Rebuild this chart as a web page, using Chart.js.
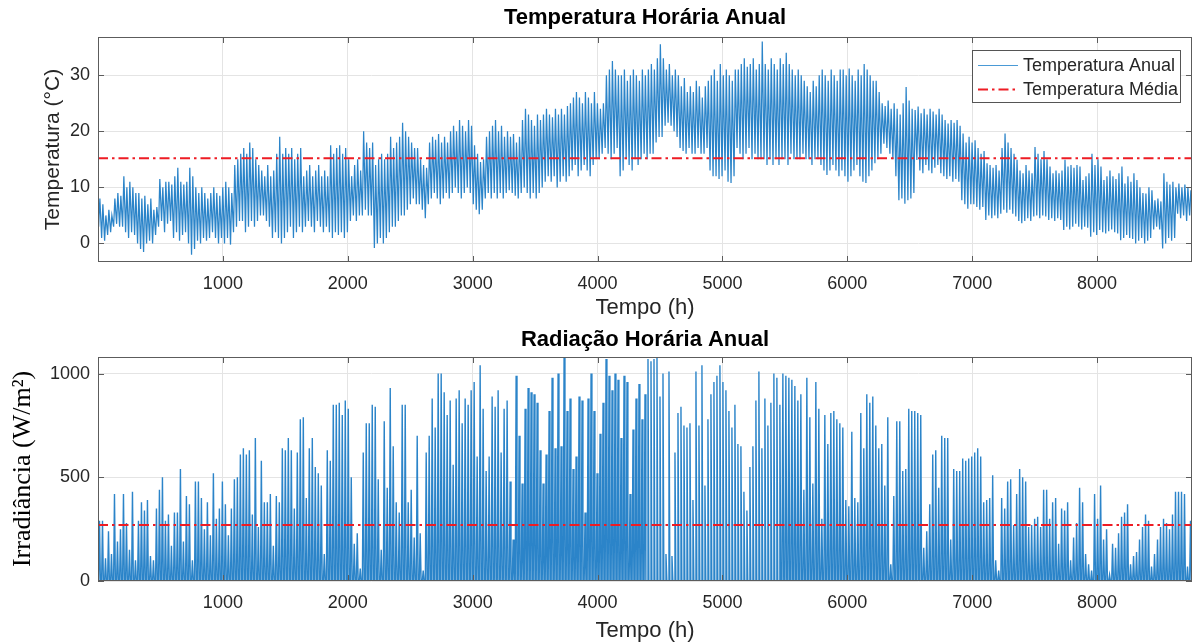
<!DOCTYPE html>
<html>
<head>
<meta charset="utf-8">
<title>Temperatura e Radiação Horária Anual</title>
<script src="https://cdn.jsdelivr.net/npm/chart.js@4.4.1/dist/chart.umd.min.js"></script>
<style>
  html, body { margin: 0; padding: 0; background: #ffffff; }
  #wrap { position: relative; width: 1193px; height: 644px; overflow: hidden; }
  canvas { position: absolute; left: 0; width: 1193px; height: 322px; }
  #cTemp { top: 0; }
  #cRad { top: 322px; }
</style>
</head>
<body>
<div id="wrap">
  <canvas id="cTemp" width="1193" height="322"></canvas>
  <canvas id="cRad" width="1193" height="322"></canvas>
</div>
<script>
// ---- axis ticks ----
const hourTicks = [1000, 2000, 3000, 4000, 5000, 6000, 7000, 8000];
const tempTicks = [0, 10, 20, 30];
const radTicks = [0, 500, 1000];

// ---- daily maximum temperature (°C), one value per day of the year ----
const tempMax = [
  8, 7, 5, 6, 5, 8, 9, 8.5, 12, 10, 11, 10, 9, 9, 8, 8.5, 7, 8, 6, 6.5,
  11.5, 10, 11, 11, 10.5, 12, 13.5, 11, 10.5, 11, 13.5, 12, 10, 9,
  10, 9, 8, 9, 10, 9, 8.5, 10, 11, 10, 9,
  14, 15, 16, 17, 16, 18, 17, 15, 14, 13, 12, 14, 12, 13, 16, 19,
  16, 17, 16, 17, 15, 16, 17, 12, 13, 14, 12, 13, 14, 12, 13, 12,
  17.5, 16, 17, 17.5, 16, 17, 15, 12, 14, 15, 13, 20, 18, 17, 18,
  14, 15, 16, 15, 16, 19, 17, 18, 19, 21.5, 20, 19, 18, 17, 17, 15, 14, 13.5,
  18, 19, 18.5, 19.5, 18, 19, 18, 20, 21, 20, 22, 21, 20, 22, 21,
  17.5, 16, 14.5, 15, 19, 20, 21, 22, 20, 21, 19, 20,
  19, 19.5, 18, 19, 22, 24, 23, 22, 21, 23, 22,
  23, 24, 23, 22.5, 24, 23, 24, 23, 24.5, 25, 26, 27, 26, 25, 27, 26, 25, 27,
  25, 24, 25, 30, 31, 32.5, 31, 30, 30, 31, 29, 30, 31, 30, 29, 31, 30,
  31, 32, 31, 33, 35.5, 33, 31, 32, 30, 31, 30, 28, 29.5, 27, 28,
  27, 29, 28, 26, 28, 29, 30, 31, 29, 32, 30, 31, 30, 29, 31,
  31, 32, 33, 31.5, 32, 33, 31, 32, 36, 32, 31, 33, 32, 31, 33, 32,
  34, 32, 31, 30, 31, 30, 29, 28, 27, 29, 28, 30, 31, 30, 29, 31, 30, 29, 31,
  31, 30, 31.2, 30, 29, 31, 30, 32, 31, 30, 29, 29, 27,
  25, 24.5, 25.5, 24, 25, 24, 23, 25, 27.9, 25.5, 24, 23.8,
  24.4, 23.2, 24, 23, 24, 23.5, 23, 24, 23, 22, 21.4, 22, 21.5, 22, 21,
  19.6, 18, 19, 18, 18.4, 17, 16, 16.5, 14.3, 14, 13.5, 14, 13,
  17, 19.6, 18, 17, 16, 14.9, 13, 12.5, 14, 13, 12.5, 17.2, 16, 15, 16.5, 15,
  13.7, 12.5, 13, 12.5, 13, 14.9, 13.7, 14, 13.5, 14, 13.7, 11.3, 12, 12.5, 16, 14, 15,
  13.7, 11.3, 12, 13, 12, 11.5, 12.5, 13.7, 10.7, 12, 11, 12.5,
  11.3, 10, 9, 8.9, 10, 9.5, 7.7, 8, 7.5, 12.5, 11, 10.5, 11, 10,
  10.7, 10, 10.5, 10, 9.5
];

// ---- daily minimum temperature (°C) ----
const tempMin = [
  3, 1, 0.5, 1.5, 2, 3, 3.5, 3, 3, 2, 1, 2, 1.5, 0, -1, -1.5, 0, 0.5, 0, 1.5,
  3, 4, 2, 3.5, 4, 1, 2, 0.5, 1.5, 2, 0, -2, -1, 0.5,
  0, 1, 0.5, 1, 2, 1, 0, 1, 0, 1, -0.2,
  2, 3, 4, 4, 2, 3, 4, 3, 4, 5, 5, 4, 3, 1, 2, 1,
  0, 1, 2, 3, 1, 2, 3, 2, 3, 4, 3, 2, 4, 3, 2, 3,
  2, 1, 2, 1.5, 2, 1, 2, 4, 5, 4, 5, 5, 6, 5, 5,
  -0.8, 0, 1, 0, 1, 2, 3, 3, 4, 5, 5, 6, 7, 8, 7, 7, 6, 4.5,
  7, 8, 9, 8, 7, 8, 9, 8, 9, 10, 9, 8, 9, 10, 9,
  7, 6, 5.2, 6, 8, 9, 8, 9, 8, 9, 8, 9,
  9.5, 9, 8.5, 8, 9, 10, 9, 8, 9, 8, 9,
  10, 11, 12, 11, 12, 10, 11, 12, 11, 12, 13, 14, 12, 13, 14, 13, 12, 14,
  15, 15, 16, 17, 16, 15, 16, 17, 12, 13, 15, 14, 13, 15, 14, 15, 16,
  15, 16, 16, 18, 19, 19, 21, 21.5, 21, 20, 19, 17, 16.5, 16, 17,
  16, 16, 17, 16, 16, 17, 13, 12, 12, 11.5, 12, 13, 11, 10.8, 12,
  17, 16, 15, 16, 17, 15, 16, 15, 15, 15, 14, 15, 14, 15, 14, 15,
  15, 14, 16, 15, 15, 15, 16, 15, 15, 14, 15, 15, 14, 13, 12.2, 13, 14, 13, 12,
  13, 12, 11, 12, 13, 14, 12, 11, 10.8, 12, 13, 14.3, 15,
  16, 17.8, 17, 16, 15, 12, 7.7, 8, 7.1, 7.7, 8, 9,
  14.9, 13, 12.5, 14, 13, 12.5, 13.5, 14, 12.5, 12, 11.5, 12, 11, 11.5, 11,
  7.7, 7, 6.2, 7, 7, 6.5, 6, 6.5, 4.2, 5, 4.5, 5, 4.5,
  5.3, 6, 5.5, 6, 5.3, 4.8, 4, 3.6, 4, 4.5, 4, 4.8, 5, 4.5, 5, 4.8,
  4.2, 4.5, 4, 4.5, 4.2, 2.4, 3, 2.5, 3, 3.5, 3, 2.5, 3, 2.8, 1.2, 2, 1.5,
  2.4, 2, 1.8, 2.2, 2.5, 2, 1.8, 0.6, 1, 1.5, 1, 0.8,
  0, 0.5, 1, 0, 0.5, 1, 2.5, 3, 2.5, -0.9, 0, 1, 0.5, 1,
  5.3, 4.5, 5, 4, 5
];

// ---- daily peak irradiance (W/m²) ----
const radPeak = [
  290, 290, 110, 240, 130, 420, 190, 250, 420, 280,
  150, 430, 100, 290, 380, 340, 390, 120, 100, 350,
  440, 500, 290, 320, 170, 330, 330, 540, 190, 410,
  370, 100, 480, 480, 400, 250, 380, 220, 520, 300,
  350, 480, 370, 220, 350, 490, 500, 610, 640, 610,
  630, 320, 690, 260, 580, 380, 380, 420, 170, 410,
  380, 640, 630, 690, 630, 350, 620, 780, 790, 400,
  640, 690, 550, 520, 460, 130, 630, 580, 850, 850,
  860, 800, 870, 830, 500, 180, 230, 60, 620, 760,
  760, 850, 840, 490, 150, 770, 450, 930, 650,
  380, 330, 850, 850, 380, 440, 210, 700, 230, 50,
  620, 700, 880, 740, 1000, 1000, 910, 800, 870, 560,
  880, 920, 760, 880, 850, 920, 960, 600, 1040, 830,
  530, 600, 890, 840, 920, 620, 830, 870,
  480, 200, 990, 700, 470, 830, 930, 910, 900, 860,
  630, 470, 610, 820, 980, 640, 1000, 650, 1080, 820,
  880, 540, 600, 890, 870, 330, 880, 1000, 820, 520,
  710, 860, 1070, 990, 920, 1000, 970, 690, 990, 960,
  420, 730, 880, 950, 780,
  900, 1070, 1060, 1070, 1080, 890, 1000, 130, 1010, 120,
  620, 810, 840, 750, 740, 760, 390, 1010, 750, 1040,
  460, 780, 900, 960, 990, 1040, 960, 920, 820, 740,
  850, 660, 650, 430, 340, 550, 650, 870, 1010, 640,
  880, 750, 860, 1000, 980, 850,
  1000, 990, 980, 970, 940, 870,
  900, 440, 980, 790, 470, 960, 830, 300, 800, 660,
  810, 820, 780, 760, 740, 390, 360, 720, 400, 380,
  810, 640, 900, 860, 890, 750, 640, 660, 460, 790,
  80, 410, 770, 770, 530, 540, 830, 820, 820, 810,
  800, 160, 240, 370, 610, 630, 450, 700, 690, 690,
  200, 540, 530, 530, 590, 580, 590, 600, 620, 640,
  600, 380, 390, 400, 510, 100, 50, 400, 350, 480,
  490, 270, 420, 540, 500, 480, 260, 270, 300, 310,
  260, 440, 440, 300, 380, 400, 180, 350, 340, 380,
  100, 210, 280, 450, 380, 130, 80, 50, 420,
  300, 460, 200, 250, 30, 180, 160, 230, 310,
  330, 370, 80, 120, 140, 200, 260, 320, 290, 70,
  130, 200, 260, 300, 280, 250, 320, 430, 430, 430,
  420, 70, 290
];

// ---- annual means ----
const tempMean = 15.2;
const radMean = 270;

const HOURS = 8760;

// Hourly trace: each day goes from its night minimum (05h) up to its afternoon maximum (15h)
const tempPoints = [];
tempMax.forEach((mx, d) => {
  tempPoints.push({ x: d * 24 + 5, y: tempMin[d] });
  tempPoints.push({ x: d * 24 + 15, y: mx });
});

// Hourly irradiance: zero before sunrise and after sunset, peak at solar noon
const radPoints = [];
radPeak.forEach((pk, d) => {
  radPoints.push({ x: d * 24 + 5, y: 0 });
  radPoints.push({ x: d * 24 + 12, y: pk });
  radPoints.push({ x: d * 24 + 19, y: 0 });
});

const BLUE = '#2b84c9';
const LEGEND_BLUE = '#4a9ad6';
const RED = '#ee1c24';
const TEXT = '#262626';
const GRID = '#e4e4e4';
const FRAME = '#5c5c5c';
const SANS = '"Liberation Sans", Arial, Helvetica, sans-serif';
const SERIF = '"Liberation Serif", "Times New Roman", serif';

// Axes box with inward tick marks on all four sides
const framePlugin = {
  id: 'frame',
  afterDatasetsDraw(chart, args, opts) {
    const { ctx, chartArea: a, scales } = chart;
    ctx.save();
    ctx.strokeStyle = opts.color;
    ctx.lineWidth = 1;
    ctx.beginPath();
    const L = opts.len;
    scales.x.ticks.forEach(t => {
      const px = Math.round(scales.x.getPixelForValue(t.value)) + 0.5;
      ctx.moveTo(px, a.top); ctx.lineTo(px, a.top + L);
      ctx.moveTo(px, a.bottom); ctx.lineTo(px, a.bottom - L);
    });
    scales.y.ticks.forEach(t => {
      const py = Math.round(scales.y.getPixelForValue(t.value)) + 0.5;
      ctx.moveTo(a.left, py); ctx.lineTo(a.left + L, py);
      ctx.moveTo(a.right, py); ctx.lineTo(a.right - L, py);
    });
    ctx.stroke();
    ctx.strokeRect(Math.round(a.left) + 0.5, Math.round(a.top) + 0.5,
                   Math.round(a.right - a.left) - 1, Math.round(a.bottom - a.top) - 1);
    ctx.restore();
  }
};

// Boxed legend placed in the upper-right corner of the axes
const boxLegendPlugin = {
  id: 'boxLegend',
  afterDraw(chart, args, o) {
    const { ctx } = chart;
    ctx.save();
    ctx.fillStyle = '#ffffff';
    ctx.fillRect(o.x, o.y, o.w, o.h);
    ctx.strokeStyle = o.border;
    ctx.lineWidth = 1;
    ctx.strokeRect(o.x + 0.5, o.y + 0.5, o.w, o.h);
    ctx.font = o.font;
    ctx.textBaseline = 'middle';
    ctx.textAlign = 'left';
    chart.data.datasets.forEach((ds, i) => {
      const cy = Math.round(o.y + o.firstRow + i * o.rowGap) + 0.5;
      ctx.strokeStyle = ds.legendColor || ds.borderColor;
      ctx.lineWidth = ds.legendLineWidth || ds.borderWidth;
      ctx.setLineDash(ds.borderDash || []);
      ctx.beginPath();
      ctx.moveTo(o.x + o.sampleStart, cy);
      ctx.lineTo(o.x + o.sampleStart + o.sampleLen, cy);
      ctx.stroke();
      ctx.setLineDash([]);
      ctx.fillStyle = TEXT;
      ctx.fillText(ds.label, o.x + o.textStart, cy + 1);
    });
    ctx.restore();
  }
};

const plainNumber = v => String(v);

function makeChart(canvasId, cfg) {
  return new Chart(document.getElementById(canvasId), {
    type: 'line',
    data: {
      datasets: [
        {
          label: cfg.seriesLabel,
          data: cfg.series,
          borderColor: BLUE,
          borderWidth: cfg.seriesWidth,
          legendColor: LEGEND_BLUE,
          legendLineWidth: 1,
          pointRadius: 0,
          tension: 0,
          fill: false,
          order: 1
        },
        {
          label: cfg.meanLabel,
          data: [{ x: 0, y: cfg.mean }, { x: HOURS, y: cfg.mean }],
          borderColor: RED,
          borderWidth: 2,
          borderDash: [10, 4, 2.5, 4],
          legendLineWidth: 2,
          pointRadius: 0,
          fill: false,
          order: 0
        }
      ]
    },
    options: {
      responsive: false,
      devicePixelRatio: 1,
      animation: false,
      events: [],
      parsing: false,
      normalized: true,
      layout: { padding: { left: 0, right: 1, top: 0, bottom: 0 } },
      scales: {
        x: {
          type: 'linear',
          min: 0,
          max: HOURS,
          afterBuildTicks: s => { s.ticks = hourTicks.map(v => ({ value: v })); },
          afterFit: s => { s.height = cfg.xAxisHeight; },
          grid: { color: GRID, drawTicks: false },
          border: { display: false },
          ticks: { color: TEXT, font: { family: SANS, size: 18 }, padding: 11, maxRotation: 0, callback: plainNumber },
          title: {
            display: true, text: 'Tempo (h)', color: TEXT,
            font: { family: SANS, size: 22 },
            padding: { top: 0, bottom: cfg.xTitleBottom }
          }
        },
        y: {
          type: 'linear',
          min: cfg.yMin,
          max: cfg.yMax,
          afterBuildTicks: s => { s.ticks = cfg.yTicks.map(v => ({ value: v })); },
          afterFit: s => { s.width = 98; },
          grid: { color: GRID, drawTicks: false },
          border: { display: false },
          ticks: { color: TEXT, font: { family: SANS, size: 18 }, padding: 8, callback: plainNumber },
          title: {
            display: true, text: cfg.yTitle, color: cfg.yTitleColor,
            font: cfg.yTitleFont,
            padding: { top: cfg.yTitlePad, bottom: 0 }
          }
        }
      },
      plugins: {
        legend: { display: false },
        tooltip: { enabled: false },
        title: {
          display: true,
          fullSize: false,
          text: cfg.title,
          color: '#000000',
          font: { family: SANS, size: 22, weight: 'bold' },
          padding: { top: 5, bottom: cfg.titleBottom }
        },
        frame: { color: FRAME, len: 6 },
        boxLegend: cfg.legend
      }
    },
    plugins: [framePlugin, boxLegendPlugin]
  });
}

makeChart('cTemp', {
  title: 'Temperatura Horária Anual',
  titleBottom: 5.6,
  seriesLabel: 'Temperatura Anual',
  meanLabel: 'Temperatura Média',
  series: tempPoints,
  seriesWidth: 1.25,
  mean: tempMean,
  yMin: -3.3,
  yMax: 36.8,
  yTicks: tempTicks,
  yTitle: 'Temperatura (°C)',
  yTitleColor: TEXT,
  yTitleFont: { family: SANS, size: 21 },
  yTitlePad: 41,
  xAxisHeight: 60,
  xTitleBottom: 1,
  legend: {
    x: 972, y: 50, w: 208, h: 52, firstRow: 15, rowGap: 24,
    sampleStart: 6, sampleLen: 40, textStart: 51,
    font: '18px ' + SANS, border: '#555555'
  }
});

makeChart('cRad', {
  title: 'Radiação Horária Anual',
  titleBottom: 3.6,
  seriesLabel: 'Radiação Anual',
  meanLabel: 'Radiação Média',
  series: radPoints,
  seriesWidth: 1.4,
  mean: radMean,
  yMin: 0,
  yMax: 1080,
  yTicks: radTicks,
  yTitle: 'Irradiância (W/m²)',
  yTitleColor: '#000000',
  yTitleFont: { family: SERIF, size: 26 },
  yTitlePad: 7.4,
  xAxisHeight: 63,
  xTitleBottom: 0,
  legend: {
    x: 999, y: 370, w: 182, h: 52, firstRow: 16, rowGap: 23,
    sampleStart: 5, sampleLen: 43, textStart: 50,
    font: '18px ' + SANS, border: '#555555'
  }
});
</script>
</body>
</html>
